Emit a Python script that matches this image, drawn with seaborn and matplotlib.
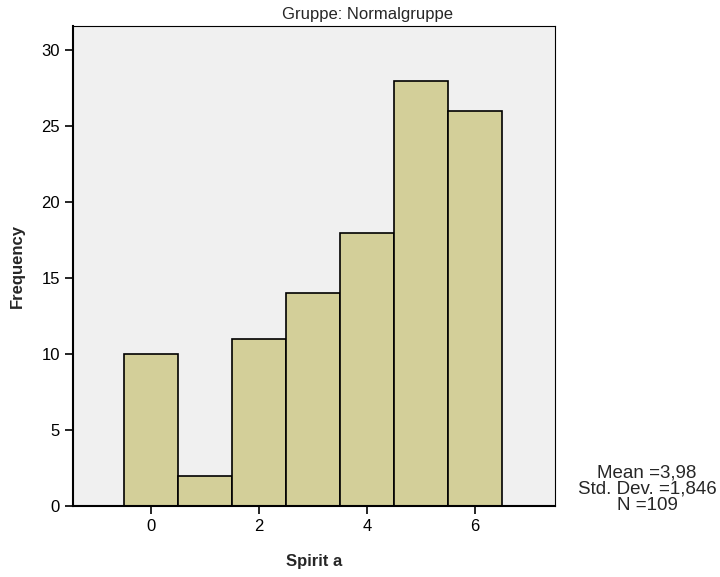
import numpy as np
import pandas as pd
import matplotlib
matplotlib.use("Agg")
import matplotlib.pyplot as plt
import seaborn as sns

# Scores on "Spirit a" and how often each occurs in the Normalgruppe
scores = [0, 1, 2, 3, 4, 5, 6]
counts = [10, 2, 11, 14, 18, 28, 26]
x_ticks = [0, 2, 4, 6]
y_ticks = [0, 5, 10, 15, 20, 25, 30]

df = pd.DataFrame({"score": scores, "count": counts})
n = int(df["count"].sum())
vals = np.repeat(df["score"].to_numpy(), df["count"].to_numpy())
mean = vals.mean()
sd = vals.std(ddof=1)


def de_num(v, digits):
    """Format a number with a decimal comma."""
    return f"{v:.{digits}f}".replace(".", ",")


sns.set_theme(style="white")
plt.rcParams["font.family"] = ["Liberation Sans", "DejaVu Sans"]

fig = plt.figure(figsize=(7.2, 5.77), dpi=100)
ax = fig.add_axes([73 / 720, 1 - 506 / 577, (555 - 73) / 720, (506 - 26) / 577])
ax.set_facecolor("#F0F0F0")

sns.histplot(data=df, x="score", weights="count", discrete=True, ax=ax,
             color="#D3CF99", edgecolor="black", linewidth=1.2, alpha=1)

ax.set_xlim(-1.44, 7.48)
ax.set_ylim(0, 31.6)
ax.set_xticks(x_ticks)
ax.set_yticks(y_ticks)
ax.tick_params(axis="both", direction="out", length=6, width=1.2,
               labelsize=12, colors="black", bottom=True, left=True)
for side in ["left", "bottom"]:
    ax.spines[side].set_linewidth(1.5)
    ax.spines[side].set_color("black")
for side in ["top", "right"]:
    ax.spines[side].set_linewidth(0.8)
    ax.spines[side].set_color("black")

ax.set_xlabel("Spirit a", fontsize=12, fontweight="bold", labelpad=14)
ax.set_ylabel("Frequency", fontsize=12, fontweight="bold", labelpad=12)

fig.text(367 / 720, 1 - 15 / 577, "Gruppe: Normalgruppe", ha="center",
         va="center", fontsize=12)
stats = (f"Mean ={de_num(mean, 2)}\n"
         f"Std. Dev. ={de_num(sd, 3)}\n"
         f"N ={n}")
fig.text(647 / 720, 1 - 489 / 577, stats, ha="center", va="center",
         fontsize=13.5, linespacing=0.95)

fig.savefig("out.png", dpi=100)
